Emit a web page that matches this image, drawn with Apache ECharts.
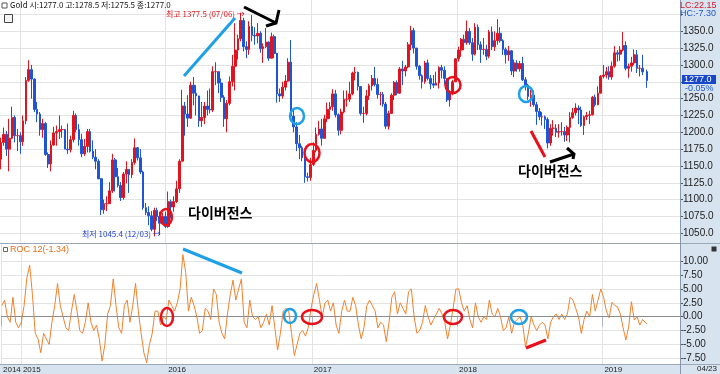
<!DOCTYPE html>
<html><head><meta charset="utf-8">
<script src="https://cdn.jsdelivr.net/npm/echarts@6/dist/echarts.min.js"></script>
<style>html,body{margin:0;padding:0;background:#fff}#c{width:720px;height:374px}</style>
</head><body><div id="c"></div>
<script>
// ---- data (weekly samples) ----
const startDate = '2014-11-14';
const lastDate = '2019-04-23';
const firstOpen = 1160;
const closes = [
1185,1197,1175,1191,1222,1195,1195,1186,1217,1277,
1293,1279,1234,1227,1204,1213,1167,1153,1181,1199,
1201,1204,1204,1175,1174,1189,1225,1204,1189,1168,
1179,1201,1172,1163,1157,1131,1085,1094,1094,1113,
1159,1134,1121,1103,1138,1145,1137,1155,1177,1162,
1141,1088,1081,1076,1056,1084,1075,1065,1075,1060,
1097,1089,1097,1116,1157,1239,1227,1221,1270,1258,
1254,1217,1222,1239,1234,1233,1290,1290,1273,1252,
1220,1243,1275,1298,1322,1339,1366,1327,1323,1357,
1344,1343,1347,1324,1327,1334,1310,1342,1317,1257,
1254,1267,1276,1304,1224,1208,1183,1177,1162,1134,
1133,1152,1173,1197,1205,1191,1220,1234,1238,1257,
1226,1203,1230,1249,1249,1257,1288,1289,1268,1228,
1228,1254,1269,1280,1271,1256,1256,1242,1209,1228,
1255,1274,1258,1294,1291,1297,1330,1351,1325,1298,
1284,1275,1303,1280,1272,1270,1273,1296,1292,1280,
1248,1257,1275,1309,1322,1338,1333,1350,1333,1316,
1356,1330,1323,1323,1313,1349,1327,1336,1347,1336,
1323,1315,1321,1291,1303,1294,1302,1278,1270,1253,
1255,1241,1231,1223,1223,1219,1184,1206,1206,1200,
1201,1201,1196,1207,1222,1229,1236,1233,1210,1223,
1225,1226,1252,1241,1258,1283,1285,1290,1282,1298,
1318,1316,1322,1329,1295,1298,1303,1315,1295,1295,
1290,1277];
const highs = [
1192,1207,1202,1220,1238,1225,1205,1200,1225,1282,
1307,1300,1280,1245,1230,1220,1215,1170,1188,1208,
1210,1225,1210,1205,1213,1195,1232,1228,1212,1198,
1190,1205,1205,1188,1175,1160,1132,1100,1105,1126,
1168,1162,1147,1126,1141,1157,1145,1160,1191,1178,
1175,1143,1095,1090,1083,1088,1088,1082,1080,1082,
1112,1100,1105,1128,1160,1263,1245,1255,1275,1282,
1270,1250,1245,1245,1262,1265,1298,1304,1290,1280,
1255,1248,1283,1315,1362,1345,1377.5,1370,1335,1365,
1374,1356,1362,1350,1332,1355,1335,1348,1345,1318,
1265,1275,1285,1310,1337,1233,1215,1196,1180,1165,
1140,1162,1185,1207,1217,1220,1226,1244,1245,1264,
1263,1228,1235,1262,1262,1275,1290,1297,1290,1268,
1238,1263,1272,1285,1297,1280,1260,1260,1245,1232,
1258,1276,1277,1297,1306,1300,1334,1358,1355,1325,
1300,1286,1306,1308,1285,1285,1290,1298,1300,1298,
1280,1262,1278,1310,1327,1340,1345,1366,1355,1340,
1362,1360,1335,1340,1330,1352,1357,1350,1368,1356,
1338,1326,1328,1322,1308,1307,1306,1312,1282,1272,
1263,1262,1245,1236,1230,1225,1222,1212,1218,1212,
1212,1215,1208,1210,1230,1236,1243,1240,1238,1225,
1230,1232,1254,1256,1268,1285,1300,1297,1298,1305,
1328,1322,1328,1349,1335,1302,1312,1323,1322,1300,
1315,1293];
const lows = [
1145,1180,1165,1142,1190,1185,1172,1168,1180,1212,
1275,1250,1230,1215,1195,1192,1165,1147,1142,1180,
1180,1190,1192,1175,1168,1170,1185,1200,1180,1163,
1165,1170,1170,1160,1145,1130,1077,1079,1083,1094,
1110,1112,1118,1098,1100,1124,1110,1132,1152,1158,
1138,1085,1077,1062,1053,1045.4,1068,1047,1064,1058,
1058,1072,1082,1095,1110,1157,1195,1208,1220,1240,
1225,1208,1208,1212,1225,1228,1230,1270,1258,1245,
1208,1200,1240,1268,1262,1308,1335,1320,1310,1315,
1335,1330,1332,1318,1303,1325,1306,1310,1310,1244,
1245,1250,1262,1275,1220,1200,1172,1160,1157,1125,
1127,1128,1150,1170,1195,1180,1190,1215,1220,1232,
1222,1195,1197,1228,1238,1245,1255,1277,1262,1225,
1214,1225,1248,1262,1268,1250,1240,1238,1205,1204,
1228,1248,1255,1257,1270,1283,1295,1322,1317,1293,
1278,1265,1272,1277,1264,1266,1270,1265,1280,1271,
1245,1238,1255,1275,1305,1312,1322,1330,1330,1306,
1314,1322,1303,1315,1307,1310,1322,1321,1330,1333,
1315,1302,1306,1285,1282,1290,1290,1276,1262,1248,
1238,1238,1211,1218,1210,1205,1176,1180,1195,1193,
1192,1195,1186,1187,1185,1220,1225,1212,1208,1196,
1218,1212,1225,1238,1240,1258,1280,1280,1278,1278,
1296,1305,1306,1320,1292,1281,1290,1300,1288,1283,
1285,1266];
const roc = [
2,3,0,-1,3.5,-1,-2,-1,2,7,
9.3,4,-3,-4,-6.5,-3,-4,-5,-1,2,
6,2,0,-2,-2.5,1,4,1,-2.5,-3,
-1,2.5,-1,-2.5,-1.5,-4,-8,-5,0.5,2,
6.8,2,-2,-3,2,3,-1,2,6,1,
-3,-6.5,-8.3,-5,-3,1,1,-1.5,0,-0.5,
3,2,1,2.5,5,11.2,8,1,3.5,2,
0,-3,-2.5,1.5,1,-0.5,5,4,-1,-3,
-4,0.5,4,6.6,3,5,6.8,-1,-2,3,
0,-0.5,0,-2,-1,0.5,-1.5,2,-2,-6,
-3,1,1.5,1,-3,-7,-5,-3,-2.5,-3.5,
-2,1.5,4,6,3,0,2.5,3,1,2.5,
-1.5,-3,1,3,1,1,3.5,2,-1.5,-4,
-2,2,3,2,1,-2,-1,-1.5,-4.5,-1,
3.5,4.5,0.5,2.5,1.5,0.5,4.5,5,0,-3,
-2.5,-1,2,0,-1.5,-0.5,0.5,1.5,0.5,-1,
-4,-1.5,1.5,5,5,2.5,1,2,-0.5,-2,
2.5,0,-1,0,-0.5,3,0.5,0,1.5,0,
-2.5,-2,0,-3,-1,-0.5,0,-1.5,-5.5,-3,
0,-1.5,-2.5,-1.5,-1,-1.5,-4,-1,0,0.5,
-0.5,0.5,-0.5,0.5,3.5,3,1.5,0,-3,-0.5,
1,0,4,1,3,5,3.5,1,-0.2,2.6,
2,1.8,0.5,-2,-4.2,-1.8,2.7,-0.6,0,-1.5,
-0.5,-1.34];
const priceTicks = [1050,1075,1100,1125,1150,1175,1200,1225,1250,1275,1300,1325,1350,1375];
const priceLabels = [1050,1075,1100,1125,1150,1175,1200,1225,1250,1300,1325,1350];
const rocTicks = [-7.5,-5,-2.5,0,2.5,5,7.5,10];
const yearStarts = ['2015-01-01','2016-01-01','2017-01-01','2018-01-01','2019-01-01'];
const axisStart = '2014-11-12';
const axisEnd = '2019-07-15';

// ---- build ----
const DAY = 86400000;
const t0 = Date.parse(startDate + 'T00:00:00Z');
const dates = closes.map((_, i) => i === closes.length - 1 ? Date.parse(lastDate + 'T00:00:00Z') : t0 + i * 7 * DAY);
const candle = closes.map((c, i) => [dates[i], i === 0 ? firstOpen : closes[i - 1], c, lows[i], highs[i]]);
const rocData = roc.map((v, i) => [dates[i], v]);
const yearTs = yearStarts.map(d => Date.parse(d + 'T00:00:00Z'));
const xMin = Date.parse(axisStart + 'T00:00:00Z');
const xMax = Date.parse(axisEnd + 'T00:00:00Z');

const GRID_C = '#e3e3e3';
const LBL = {fontSize: 10, color: '#222', fontFamily: 'Liberation Sans, Arial, sans-serif'};
const FONT_KR = '"Noto Sans CJK KR", sans-serif';

const chart = echarts.init(document.getElementById('c'), null, {renderer: 'canvas'});
chart.setOption({
  animation: false,
  backgroundColor: '#fff',
  grid: [
    {left: 0, right: 40, top: 0, height: 243},
    {left: 0, right: 40, top: 244, height: 120}
  ],
  xAxis: [
    {type: 'value', gridIndex: 0, min: xMin, max: xMax,
     axisLine: {show: false}, axisLabel: {show: false},
     axisTick: {show: false, customValues: yearTs},
     splitLine: {show: true, lineStyle: {color: GRID_C, width: 1}}},
    {type: 'value', gridIndex: 1, min: xMin, max: xMax,
     axisLine: {show: false},
     axisTick: {show: true, customValues: [xMin].concat(yearTs), length: 10, inside: false, lineStyle: {color: '#aab6c4'}},
     axisLabel: {show: true, customValues: [xMin].concat(yearTs), ...LBL, fontSize: 8, align: 'left', margin: 2, padding: [0,0,0,2],
       formatter: v => String(new Date(v).getUTCFullYear())},
     splitLine: {show: true, lineStyle: {color: GRID_C, width: 1}}}
  ],
  yAxis: [
    {type: 'value', gridIndex: 0, position: 'right', min: 1035.6, max: 1396.4,
     axisLine: {show: true, lineStyle: {color: '#8797ab'}},
     axisTick: {show: true, customValues: priceTicks, length: 3, lineStyle: {color: '#555'}},
     axisLabel: {customValues: priceLabels, ...LBL, margin: 3, formatter: v => v.toFixed(1)},
     splitLine: {show: true, lineStyle: {color: GRID_C, width: 1}}},
    {type: 'value', gridIndex: 1, position: 'right', min: -8.53, max: 13.11,
     axisLine: {show: true, lineStyle: {color: '#8797ab'}},
     axisTick: {show: true, customValues: rocTicks, length: 3, lineStyle: {color: '#555'}},
     axisLabel: {customValues: rocTicks, ...LBL, margin: 3, formatter: v => v.toFixed(2)},
     splitLine: {show: true, lineStyle: {color: GRID_C, width: 1}}}
  ],
  series: [
    {type: 'candlestick', xAxisIndex: 0, yAxisIndex: 0,
     dimensions: ['date','open','close','lowest','highest'],
     encode: {x: 'date', y: ['open','close','lowest','highest']},
     data: candle, barWidth: 2.2,
     itemStyle: {color: '#e0141e', color0: '#1f55d2', borderColor: '#e0141e', borderColor0: '#1f55d2', borderWidth: 1}},
    {type: 'line', xAxisIndex: 1, yAxisIndex: 1, data: rocData, showSymbol: false,
     lineStyle: {color: '#f0822e', width: 1}, itemStyle: {color: '#f0822e'},
     markLine: {silent: true, symbol: 'none', label: {show: false},
       lineStyle: {color: '#8c8c8c', type: 'solid', width: 1}, data: [{yAxis: 0}]}}
  ],
  graphic: {elements: [
    {type: 'rect', shape: {x: 680, y: 0, width: 40, height: 374}, style: {fill: '#d7e3ef'}, z: -5},
    {type: 'rect', shape: {x: 0, y: 364, width: 720, height: 10}, style: {fill: '#d7e3ef'}, z: -5},
    {type: 'line', shape: {x1: 0, y1: 243.5, x2: 720, y2: 243.5}, style: {stroke: '#9aa8b8', lineWidth: 1}, z: 50},
    {type: 'line', shape: {x1: 0, y1: 364.5, x2: 720, y2: 364.5}, style: {stroke: '#9aa8b8', lineWidth: 1}, z: 50},
    {type: 'line', shape: {x1: 680.5, y1: 0, x2: 680.5, y2: 374}, style: {stroke: '#8797ab', lineWidth: 1}, z: 50},
    {type: 'rect', shape: {x: 2, y: 3, width: 5, height: 5}, style: {fill: '#fff', stroke: '#555', lineWidth: 1}, z: 60},
    {type: 'text', x: 10, y: 1, style: {text: 'Gold 시:1277.0 고:1278.5 저:1275.5 종:1277.0', font: '8px ' + FONT_KR, fill: '#111'}, z: 60},
    {type: 'rect', shape: {x: 4.5, y: 14.5, width: 8, height: 8}, style: {fill: '#f4f4f4', stroke: '#444', lineWidth: 1}, z: 60},
    {type: 'text', x: 680, y: 1, style: {text: 'LC:22.15', font: '9px Liberation Sans', fill: '#d01828'}, z: 60},
    {type: 'text', x: 680, y: 9, style: {text: 'HC:-7.30', font: '9px Liberation Sans', fill: '#1f55d2'}, z: 60},
    {type: 'rect', shape: {x: 682, y: 75, width: 34, height: 9}, style: {fill: '#1746c8'}, z: 60},
    {type: 'text', x: 684, y: 75, style: {text: '1277.0', font: '9px Liberation Sans', fill: '#fff'}, z: 61},
    {type: 'text', x: 685, y: 84, style: {text: '-0.05%', font: '9px Liberation Sans', fill: '#1f55d2'}, z: 60},
    {type: 'text', x: 166, y: 10, style: {text: '최고 1377.5 (07/06) →', font: '8px ' + FONT_KR, fill: '#e0141e'}, z: 60},
    {type: 'text', x: 82, y: 230, style: {text: '최저 1045.4 (12/03) →', font: '8px ' + FONT_KR, fill: '#1f40d0'}, z: 60},
    {type: 'rect', shape: {x: 3.5, y: 247.5, width: 4, height: 4}, style: {fill: '#fff', stroke: '#666', lineWidth: 1}, z: 60},
    {type: 'text', x: 10, y: 245, style: {text: 'ROC 12(-1.34)', font: '9px Liberation Sans', fill: '#e8701e'}, z: 60},
    {type: 'rect', shape: {x: 711.5, y: 246.5, width: 5, height: 5}, style: {fill: '#333'}, z: 60},
    {type: 'text', x: 697, y: 365, style: {text: '04/23', font: '8px Liberation Sans', fill: '#222'}, z: 60},
    {type: 'line', shape: {x1: 184, y1: 76, x2: 235, y2: 18}, style: {stroke: '#1ea0e6', lineWidth: 3}, z: 70},
    {type: 'polyline', shape: {points: [[244, 7], [276, 23]]}, style: {stroke: '#000', lineWidth: 3, fill: null}, z: 70},
    {type: 'polyline', shape: {points: [[266, 26], [276, 23], [279, 10]]}, style: {stroke: '#000', lineWidth: 3, fill: null}, z: 70},
    {type: 'ellipse', shape: {cx: 166, cy: 217, rx: 6, ry: 8}, style: {fill: null, stroke: '#e8101a', lineWidth: 2.5}, z: 70},
    {type: 'ellipse', shape: {cx: 297, cy: 116, rx: 7, ry: 8}, style: {fill: null, stroke: '#1ea0e6', lineWidth: 2.5}, z: 70},
    {type: 'ellipse', shape: {cx: 312, cy: 153, rx: 7.5, ry: 9}, style: {fill: null, stroke: '#e8101a', lineWidth: 2.5}, z: 70},
    {type: 'ellipse', shape: {cx: 453, cy: 85, rx: 7.5, ry: 8}, style: {fill: null, stroke: '#e8101a', lineWidth: 2.5}, z: 70},
    {type: 'ellipse', shape: {cx: 526, cy: 94, rx: 7, ry: 8}, style: {fill: null, stroke: '#1ea0e6', lineWidth: 2.5}, z: 70},
    {type: 'line', shape: {x1: 531, y1: 131, x2: 545, y2: 157}, style: {stroke: '#e8101a', lineWidth: 3}, z: 70},
    {type: 'polyline', shape: {points: [[550, 162], [574, 154]]}, style: {stroke: '#000', lineWidth: 3, fill: null}, z: 70},
    {type: 'polyline', shape: {points: [[567, 148], [574, 154], [573, 159]]}, style: {stroke: '#000', lineWidth: 3, fill: null}, z: 70},
    {type: 'text', x: 188, y: 206, style: {text: '다이버전스', font: 'bold 14px ' + FONT_KR, fill: '#000'}, z: 70},
    {type: 'text', x: 518, y: 164, style: {text: '다이버전스', font: 'bold 14px ' + FONT_KR, fill: '#000'}, z: 70},
    {type: 'line', shape: {x1: 183, y1: 249, x2: 242, y2: 273}, style: {stroke: '#1ea0e6', lineWidth: 3}, z: 70},
    {type: 'ellipse', shape: {cx: 167, cy: 317, rx: 6, ry: 9}, style: {fill: null, stroke: '#e8101a', lineWidth: 2.5}, z: 70},
    {type: 'ellipse', shape: {cx: 290, cy: 316, rx: 6, ry: 7}, style: {fill: null, stroke: '#1ea0e6', lineWidth: 2.5}, z: 70},
    {type: 'ellipse', shape: {cx: 312, cy: 317, rx: 10, ry: 7}, style: {fill: null, stroke: '#e8101a', lineWidth: 2.5}, z: 70},
    {type: 'ellipse', shape: {cx: 453, cy: 317, rx: 9, ry: 7}, style: {fill: null, stroke: '#e8101a', lineWidth: 2.5}, z: 70},
    {type: 'ellipse', shape: {cx: 519, cy: 317, rx: 8, ry: 7}, style: {fill: null, stroke: '#1ea0e6', lineWidth: 2.5}, z: 70},
    {type: 'line', shape: {x1: 526, y1: 348, x2: 546, y2: 340}, style: {stroke: '#e8101a', lineWidth: 3}, z: 70}
  ]}
});
</script></body></html>
